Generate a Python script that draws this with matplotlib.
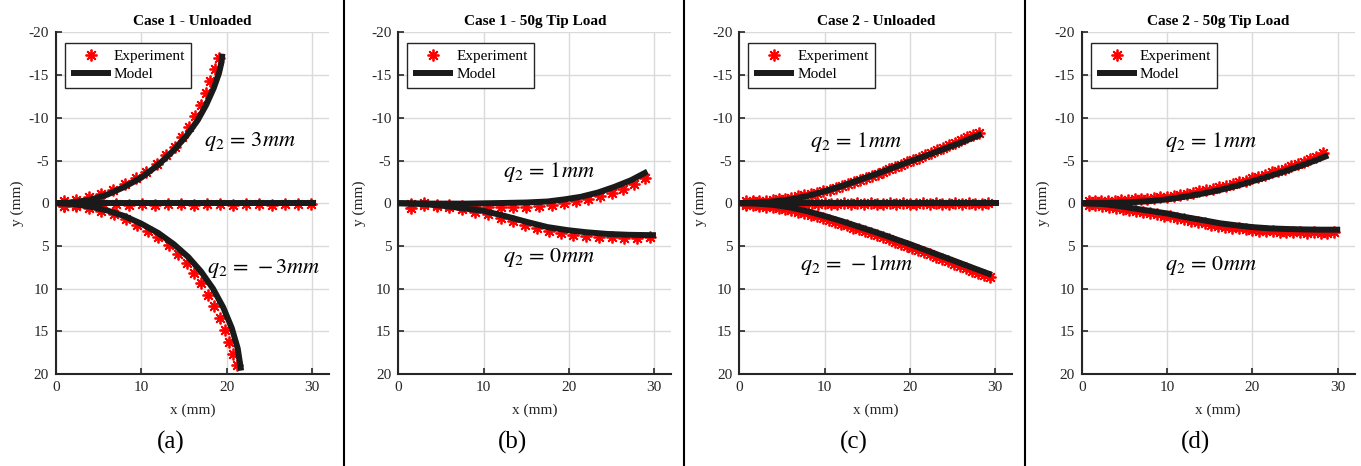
import matplotlib
matplotlib.use("Agg")
import matplotlib.pyplot as plt
from matplotlib.lines import Line2D

plt.rcParams['font.family'] = ['Liberation Serif', 'DejaVu Serif']
plt.rcParams['mathtext.fontset'] = 'stix'
plt.rcParams['axes.unicode_minus'] = False

# ---------------- Case 1 - Unloaded ----------------
a_up_model_x = [0, 2, 4, 6, 8, 10, 12, 13.8, 15.3, 16.6, 17.6, 18.5, 19.1, 19.4, 19.5]
a_up_model_y = [0, -0.1, -0.4, -1.0, -1.9, -3.0, -4.5, -6.2, -7.9, -9.7, -11.5, -13.5, -15.2, -16.5, -17.5]
a_up_exp_x = [0.9, 2.4, 3.9, 5.3, 6.7, 8.1, 9.4, 10.6, 11.8, 12.9, 13.9, 14.8, 15.6, 16.3, 17.0, 17.6, 18.1, 18.6, 19.1]
a_up_exp_y = [-0.3, -0.4, -0.7, -1.1, -1.6, -2.2, -2.9, -3.7, -4.6, -5.6, -6.6, -7.7, -8.9, -10.2, -11.5, -12.9, -14.3, -15.7, -17.0]

a_mid_model_x = [0, 30.5]
a_mid_model_y = [0, 0]
a_mid_exp_x = [0.9, 2.4, 4.0, 5.5, 7.0, 8.5, 10.1, 11.6, 13.1, 14.6, 16.2, 17.7, 19.2, 20.7, 22.3, 23.8, 25.3, 26.8, 28.4, 29.9]
a_mid_exp_y = [0.3, 0.2, 0.2, 0.1, 0.1, 0.2, 0.1, 0.2, 0.1, 0.1, 0.2, 0.1, 0.1, 0.2, 0.1, 0.1, 0.2, 0.1, 0.1, 0.1]

a_dn_model_x = [0, 2, 4, 6, 8, 10, 12, 13.8, 15.5, 17, 18.4, 19.6, 20.6, 21.3, 21.7]
a_dn_model_y = [0, 0.1, 0.4, 0.85, 1.5, 2.4, 3.5, 4.8, 6.3, 8.0, 10.0, 12.2, 14.6, 17.0, 19.6]
a_dn_exp_x = [0.9, 2.4, 3.9, 5.3, 6.8, 8.2, 9.5, 10.8, 12.0, 13.2, 14.3, 15.3, 16.2, 17.0, 17.8, 18.5, 19.2, 19.8, 20.3, 20.8, 21.2]
a_dn_exp_y = [0.3, 0.35, 0.6, 0.9, 1.3, 1.8, 2.5, 3.2, 4.0, 4.9, 5.9, 7.0, 8.2, 9.4, 10.7, 12.0, 13.4, 14.8, 16.2, 17.6, 19.0]

# ---------------- Case 1 - 50g Tip Load ----------------
b_up_model_x = [0, 4, 8, 12, 15, 17.5, 19.5, 21.4, 23.4, 25.3, 27.3, 29.2]
b_up_model_y = [0, 0.05, 0.05, -0.02, -0.08, -0.2, -0.45, -0.75, -1.25, -1.9, -2.7, -3.7]
b_up_exp_x = [1.5, 3.0, 4.5, 6.0, 7.5, 9.0, 10.5, 12.0, 13.5, 15.0, 16.5, 18.0, 19.4, 20.8, 22.2, 23.6, 25.0, 26.3, 27.6, 28.9]
b_up_exp_y = [0.6, 0.0, 0.2, 0.2, 0.3, 0.4, 0.5, 0.5, 0.5, 0.45, 0.35, 0.2, 0.0, -0.2, -0.5, -0.85, -1.25, -1.7, -2.3, -3.0]

b_dn_model_x = [0, 3, 5.7, 8, 10, 12.5, 15.1, 17.5, 19.8, 22, 24.5, 27, 30.2]
b_dn_model_y = [0, 0.1, 0.35, 0.65, 0.9, 1.5, 2.2, 2.8, 3.15, 3.4, 3.6, 3.7, 3.75]
b_dn_exp_x = [1.5, 3.0, 4.5, 6.0, 7.5, 9.0, 10.5, 12.0, 13.5, 14.9, 16.3, 17.7, 19.1, 20.5, 22.0, 23.5, 25.0, 26.5, 28.0, 29.5]
b_dn_exp_y = [0.1, 0.2, 0.3, 0.5, 0.7, 1.0, 1.3, 1.7, 2.1, 2.5, 2.9, 3.2, 3.5, 3.7, 3.85, 3.95, 4.0, 4.05, 4.1, 4.0]

# ---------------- Case 2 - Unloaded ----------------
c_up_model_x = [0, 2, 4, 6, 8, 10, 12, 14, 16, 18, 20, 22, 24, 26, 28.4]
c_up_model_y = [0, -0.05, -0.2, -0.45, -0.85, -1.4, -2.0, -2.7, -3.4, -4.15, -4.9, -5.6, -6.35, -7.1, -8.1]
c_up_exp_x = [0.8, 1.6, 2.3, 3.1, 3.9, 4.6, 5.4, 6.1, 6.9, 7.6, 8.4, 9.1, 9.8, 10.6, 11.3, 12.0, 12.7, 13.4,
              14.1, 14.8, 15.5, 16.2, 16.9, 17.6, 18.3, 19.0, 19.7, 20.4, 21.1, 21.8, 22.5, 23.2, 23.9, 24.6,
              25.3, 26.0, 26.7, 27.4, 28.1]
c_up_exp_y = [-0.2, -0.25, -0.3, -0.3, -0.35, -0.45, -0.55, -0.65, -0.8, -0.95, -1.1, -1.25, -1.4, -1.6, -1.8,
              -2.0, -2.2, -2.45, -2.7, -2.95, -3.2, -3.45, -3.7, -3.95, -4.25, -4.5, -4.8, -5.05, -5.35, -5.6,
              -5.9, -6.2, -6.5, -6.8, -7.1, -7.4, -7.7, -7.95, -8.25]

c_mid_model_x = [0, 30.4]
c_mid_model_y = [0, 0]
c_mid_exp_x = [0.8, 1.6, 2.3, 3.1, 3.9, 4.6, 5.4, 6.2, 6.9, 7.7, 8.5, 9.2, 10.0, 10.8, 11.5, 12.3, 13.1, 13.8,
               14.6, 15.4, 16.1, 16.9, 17.7, 18.4, 19.2, 20.0, 20.7, 21.5, 22.3, 23.0, 23.8, 24.6, 25.3, 26.1,
               26.9, 27.6, 28.4, 29.2]
c_mid_exp_y = [0.1, -0.1, 0.15, 0.0, 0.1, -0.1, 0.05, 0.1, -0.05, 0.1, 0.0, 0.1, -0.05, 0.1, 0.05, 0.0, 0.1,
               -0.05, 0.1, 0.0, 0.05, 0.1, -0.05, 0.1, 0.0, 0.05, 0.1, -0.05, 0.1, 0.0, 0.05, 0.1, 0.0, 0.1,
               -0.05, 0.1, 0.05, 0.0]

c_dn_model_x = [0, 2, 4, 6, 8, 10, 12, 14, 16, 18, 20, 22, 24, 26, 28, 29.6]
c_dn_model_y = [0, 0.05, 0.2, 0.5, 0.95, 1.5, 2.1, 2.75, 3.4, 4.1, 4.8, 5.55, 6.3, 7.05, 7.8, 8.4]
c_dn_exp_x = [0.8, 1.6, 2.3, 3.1, 3.9, 4.6, 5.4, 6.1, 6.9, 7.6, 8.4, 9.1, 9.8, 10.5, 11.2, 11.9, 12.6, 13.3,
              14.0, 14.7, 15.4, 16.1, 16.8, 17.5, 18.2, 18.9, 19.6, 20.3, 21.0, 21.7, 22.4, 23.1, 23.8, 24.5,
              25.2, 25.9, 26.6, 27.3, 28.0, 28.7, 29.4]
c_dn_exp_y = [0.2, 0.25, 0.3, 0.4, 0.45, 0.55, 0.7, 0.8, 1.0, 1.15, 1.35, 1.55, 1.75, 1.95, 2.15, 2.4, 2.6,
              2.85, 3.05, 3.3, 3.5, 3.75, 4.0, 4.25, 4.5, 4.75, 5.0, 5.25, 5.5, 5.75, 6.0, 6.3, 6.55, 6.8,
              7.1, 7.35, 7.6, 7.9, 8.15, 8.4, 8.65]

# ---------------- Case 2 - 50g Tip Load ----------------
d_up_model_x = [0, 3, 6, 8, 10, 12, 14.3, 16.2, 18.2, 20.1, 22.1, 24, 26, 27.5, 28.9]
d_up_model_y = [0, -0.02, -0.12, -0.25, -0.45, -0.75, -1.15, -1.55, -2.05, -2.6, -3.2, -3.8, -4.5, -5.05, -5.6]
d_up_exp_x = [0.8, 1.6, 2.3, 3.1, 3.9, 4.6, 5.4, 6.2, 6.9, 7.7, 8.5, 9.2, 10.0, 10.8, 11.5, 12.3, 13.1, 13.8,
              14.6, 15.4, 16.1, 16.9, 17.7, 18.4, 19.2, 20.0, 20.7, 21.5, 22.3, 23.0, 23.8, 24.5, 25.3, 26.0,
              26.8, 27.5, 28.3]
d_up_exp_y = [-0.2, -0.25, -0.2, -0.3, -0.3, -0.35, -0.4, -0.45, -0.5, -0.55, -0.6, -0.7, -0.75, -0.85, -1.0,
              -1.1, -1.25, -1.4, -1.55, -1.7, -1.85, -2.05, -2.25, -2.45, -2.65, -2.9, -3.1, -3.35, -3.6, -3.8,
              -4.05, -4.3, -4.6, -4.85, -5.15, -5.4, -5.9]

d_dn_model_x = [0, 2.5, 4.5, 7, 10, 12, 14.3, 16.2, 18.2, 20, 22.1, 24, 26, 28, 30.3]
d_dn_model_y = [0, 0.1, 0.35, 0.75, 1.2, 1.6, 2.0, 2.35, 2.6, 2.8, 2.95, 3.02, 3.07, 3.1, 3.1]
d_dn_exp_x = [0.8, 1.6, 2.4, 3.2, 4.0, 4.8, 5.6, 6.4, 7.2, 8.0, 8.8, 9.6, 10.4, 11.2, 12.0, 12.8, 13.6, 14.4,
              15.2, 16.0, 16.8, 17.6, 18.4, 19.2, 20.0, 20.8, 21.6, 22.4, 23.2, 24.0, 24.8, 25.6, 26.4, 27.2,
              28.0, 28.8, 29.6]
d_dn_exp_y = [0.25, 0.2, 0.35, 0.4, 0.55, 0.65, 0.8, 0.9, 1.05, 1.2, 1.3, 1.45, 1.55, 1.75, 1.9, 2.05, 2.2,
              2.35, 2.5, 2.65, 2.75, 2.85, 2.95, 3.05, 3.1, 3.2, 3.25, 3.3, 3.35, 3.35, 3.4, 3.4, 3.45, 3.4,
              3.45, 3.45, 3.4]

titles = ['Case 1 - Unloaded', 'Case 1 - 50g Tip Load', 'Case 2 - Unloaded', 'Case 2 - 50g Tip Load']
panel_tags = ['(a)', '(b)', '(c)', '(d)']
x_ticks = [0, 10, 20, 30]
y_ticks = [-20, -15, -10, -5, 0, 5, 10, 15, 20]

panels = [
    dict(models=[(a_up_model_x, a_up_model_y), (a_mid_model_x, a_mid_model_y), (a_dn_model_x, a_dn_model_y)],
         exps=[(a_up_exp_x, a_up_exp_y), (a_mid_exp_x, a_mid_exp_y), (a_dn_exp_x, a_dn_exp_y)],
         notes=[(22.7, -7.2, r'$q_2\,=\,3mm$'), (24.3, 7.7, r'$q_2\,=\,-3mm$')]),
    dict(models=[(b_up_model_x, b_up_model_y), (b_dn_model_x, b_dn_model_y)],
         exps=[(b_up_exp_x, b_up_exp_y), (b_dn_exp_x, b_dn_exp_y)],
         notes=[(17.6, -3.7, r'$q_2\,=\,1mm$'), (17.6, 6.3, r'$q_2\,=\,0mm$')]),
    dict(models=[(c_up_model_x, c_up_model_y), (c_mid_model_x, c_mid_model_y), (c_dn_model_x, c_dn_model_y)],
         exps=[(c_up_exp_x, c_up_exp_y), (c_mid_exp_x, c_mid_exp_y), (c_dn_exp_x, c_dn_exp_y)],
         notes=[(13.7, -7.2, r'$q_2\,=\,1mm$'), (13.8, 7.25, r'$q_2\,=\,-1mm$')]),
    dict(models=[(d_up_model_x, d_up_model_y), (d_dn_model_x, d_dn_model_y)],
         exps=[(d_up_exp_x, d_up_exp_y), (d_dn_exp_x, d_dn_exp_y)],
         notes=[(15.1, -7.2, r'$q_2\,=\,1mm$'), (15.1, 7.25, r'$q_2\,=\,0mm$')]),
]

W, H = 1361, 466
fig = plt.figure(figsize=(W / 100, H / 100), dpi=100)

ax_left_px = [56, 398.3, 739.3, 1081.7]
ax_w_px, ax_top_px, ax_bot_px = 273, 32.4, 374
spine_col = '#262626'
red = '#ff0000'
model_col = '#1a1a1a'
ast = (8, 2, 0)

for i, p in enumerate(panels):
    ax = fig.add_axes([ax_left_px[i] / W, 1 - ax_bot_px / H, ax_w_px / W, (ax_bot_px - ax_top_px) / H])
    for k, (ex, ey) in enumerate(p['exps']):
        ax.plot(ex, ey, linestyle='none', marker=ast, markersize=8.5, markeredgewidth=1.3,
                color=red, label='Experiment' if k == 0 else None, zorder=3)
    for k, (mx, my) in enumerate(p['models']):
        ax.plot(mx, my, color=model_col, linewidth=4.3, solid_capstyle='butt',
                label='Model' if k == 0 else None, zorder=4)
    for (tx, ty, s) in p['notes']:
        ax.text(tx, ty, s, fontsize=16, ha='center', va='center', zorder=5)

    ax.set_xlim(0, 32)
    ax.set_ylim(20, -20)
    ax.set_xticks(x_ticks)
    ax.set_yticks(y_ticks)
    ax.grid(True, color='#dadada', linewidth=1.0)
    ax.set_axisbelow(True)
    for s in ['top', 'right']:
        ax.spines[s].set_visible(False)
    for s in ['left', 'bottom']:
        ax.spines[s].set_color(spine_col)
        ax.spines[s].set_linewidth(1.5)
    ax.tick_params(direction='in', length=4, width=1.2, colors=spine_col, labelsize=11, pad=5)
    ax.set_title(titles[i], fontsize=11, fontweight='bold', pad=5)
    ax.set_xlabel('x (mm)', fontsize=11, color=spine_col)
    ax.xaxis.set_label_coords(0.5, -0.085)
    ax.set_ylabel('y (mm)', fontsize=11, color=spine_col)
    ax.yaxis.set_label_coords(-0.117, 0.5)

    leg = ax.legend(loc='upper left', bbox_to_anchor=(9 / ax_w_px, 1 - 11 / (ax_bot_px - ax_top_px)),
                    borderaxespad=0, fontsize=11, frameon=True, fancybox=False, framealpha=1,
                    edgecolor='#262626', handlelength=2.6, handletextpad=0.2, borderpad=0.4,
                    labelspacing=0.3)
    leg.get_frame().set_linewidth(1.0)

    fig.text((i * 341.5 + 170.75) / W, 1 - 442.7 / H, panel_tags[i], ha='center', va='center', fontsize=18)

for xs in [343.5, 684, 1024.5]:
    fig.add_artist(Line2D([xs / W, xs / W], [0, 1], transform=fig.transFigure, color='black', linewidth=1.5))

fig.savefig('out.png', dpi=100)
